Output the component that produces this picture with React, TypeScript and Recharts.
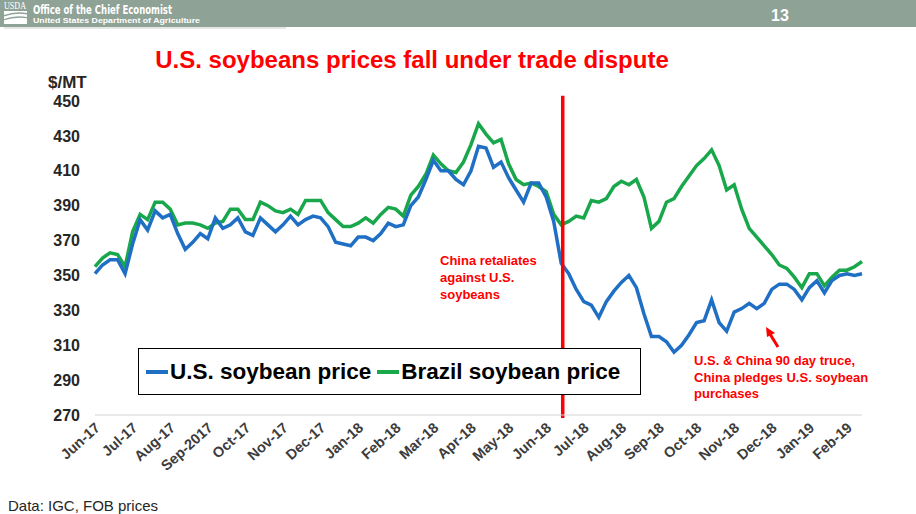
import React from 'react';
import { LineChart, Line, XAxis, YAxis, ReferenceLine, Legend } from 'recharts';

const monthLabels = [
  'Jun-17', 'Jul-17', 'Aug-17', 'Sep-2017', 'Oct-17', 'Nov-17', 'Dec-17',
  'Jan-18', 'Feb-18', 'Mar-18', 'Apr-18', 'May-18', 'Jun-18', 'Jul-18',
  'Aug-18', 'Sep-18', 'Oct-18', 'Nov-18', 'Dec-18', 'Jan-19', 'Feb-19',
];
const monthTicks = monthLabels.map((_, i) => i);
const yTicks = [270, 290, 310, 330, 350, 370, 390, 410, 430, 450];

// observations every 0.2 month, starting at the beginning of Jun-17 ($/MT)
const STEP = 0.2;
const usPrice = [
  351, 356, 359, 359, 351, 368, 382, 376, 387, 383,
  385, 374, 365, 369, 374, 371, 383, 377, 379, 383,
  375, 373, 383, 379, 375, 379, 384, 379, 382, 384,
  383, 378, 369, 368, 367, 372, 372, 370, 374, 380,
  378, 379, 390, 395, 405, 416, 410, 410, 405, 402,
  410, 424, 423, 412, 415, 406, 399, 392, 403, 403,
  395, 381, 357, 351, 342, 335, 333, 326, 335, 341,
  346, 350, 343, 328, 315, 315, 312, 306, 310, 316,
  323, 324, 336, 323, 318, 329, 331, 334, 331, 334,
  342, 345, 345, 342, 336, 343, 347, 340, 347, 350,
  351, 350, 351,
];
const brazilPrice = [
  355, 360, 363, 362, 355, 375, 385, 382, 392, 392,
  388, 379, 380, 380, 379, 377, 380, 381, 388, 388,
  382, 382, 392, 390, 387, 386, 388, 385, 393, 393,
  393, 386, 382, 378, 378, 380, 383, 380, 385, 389,
  388, 384, 396, 401, 408, 419, 414, 410, 409, 415,
  425, 437, 431, 426, 428, 414, 405, 402, 403, 401,
  398, 385, 379, 381, 384, 383, 393, 392, 394, 401,
  404, 402, 405, 395, 377, 381, 392, 394, 401, 407,
  413, 417, 422, 413, 399, 402, 388, 377, 372, 367,
  362, 356, 354, 349, 343, 351, 351, 344, 349, 353,
  353, 355, 358,
];
const retaliationMonth = 12.44;

const data = usPrice.map((v, i) => ({
  t: Math.round(i * STEP * 100) / 100,
  us: v,
  brazil: brazilPrice[i],
}));

const FONT = "Arial, 'Liberation Sans', Helvetica, sans-serif";
const BLUE = '#1f6fc5';
const GREEN = '#19a74b';
const RED = '#ff0000';

const XTick = (props: any) => {
  const { x, y, payload } = props;
  return (
    <g transform={`translate(${x + 6},${y + 14}) rotate(-42)`}>
      <text x={0} y={0} textAnchor="end" fontFamily={FONT} fontSize={14.5} fontWeight="bold" fill="#3c3c3c">
        {monthLabels[payload.value]}
      </text>
    </g>
  );
};

const LegendBox = (props: any) => {
  const order = ['us', 'brazil'];
  const items = [...(props.payload || [])].sort(
    (a: any, b: any) => order.indexOf(a.dataKey) - order.indexOf(b.dataKey)
  );
  return (
    <div
      style={{
        width: 503, height: 47, boxSizing: 'border-box', border: '1.5px solid #000', background: '#fff',
        display: 'flex', alignItems: 'center', fontFamily: FONT, fontWeight: 'bold', fontSize: 22.5, color: '#000',
      }}
    >
      {items.map((p: any, i: number) => (
        <span key={p.value} style={{ display: 'flex', alignItems: 'center', marginLeft: i === 0 ? 7 : 6, whiteSpace: 'nowrap' }}>
          <span style={{ display: 'inline-block', width: 22, height: 4, background: p.color, marginRight: 2 }} />
          {p.value}
        </span>
      ))}
    </div>
  );
};

export default function App() {
  return (
    <div style={{ position: 'absolute', left: 0, top: 0, width: 916, height: 514, background: '#fff', overflow: 'hidden' }}>
      <svg width={916} height={514} style={{ position: 'absolute', left: 0, top: 0 }}>
        <rect x={0} y={0} width={916} height={27} fill="#8fa296" />
        <line x1={4} y1={28} x2={286} y2={28} stroke="#c9d1cc" strokeWidth={1} />
        <text x={4} y={9} fontFamily="'Liberation Serif', serif" fontSize={11} fill="#fff" textLength={22} lengthAdjust="spacingAndGlyphs">USDA</text>
        <rect x={4} y={11} width={23} height={13} fill="#fff" />
        <path d="M4 15 Q15 11 27 13 L27 14.5 Q15 12.5 4 16.5 Z" fill="#8fa296" />
        <path d="M4 19 Q15 15 27 17 L27 18.2 Q15 16.5 4 20.2 Z" fill="#8fa296" />
        <text x={33} y={14} fontFamily="'DejaVu Sans Condensed', 'DejaVu Sans', sans-serif" fontWeight="bold" fontSize={12.5} fill="#fff" textLength={139} lengthAdjust="spacingAndGlyphs">Office of the Chief Economist</text>
        <text x={33} y={23} fontFamily={FONT} fontWeight="bold" fontSize={7.5} fill="#fff" textLength={167} lengthAdjust="spacingAndGlyphs">United States Department of Agriculture</text>
        <text x={771} y={21} fontFamily={FONT} fontWeight="bold" fontSize={16} fill="#fff">13</text>
        <text x={412} y={68} textAnchor="middle" fontFamily={FONT} fontWeight="bold" fontSize={24} fill={RED}>U.S. soybeans prices fall under trade dispute</text>
        <text x={48} y={88} fontFamily={FONT} fontWeight="bold" fontSize={17} fill="#262626">$/MT</text>
        <text x={8} y={511} fontFamily={FONT} fontSize={15} fill="#262626">Data: IGC, FOB prices</text>
      </svg>
      <div style={{ position: 'absolute', left: 0, top: 0 }}>
        <LineChart width={916} height={514} data={data} margin={{ top: 101, right: 54, bottom: 39, left: 8 }}>
          <XAxis
            dataKey="t"
            type="number"
            domain={[0, 20.4]}
            ticks={monthTicks}
            interval={0}
            tick={<XTick />}
            tickLine={false}
            tickSize={0}
            tickMargin={0}
            axisLine={{ stroke: '#d4d4d4', strokeWidth: 1 }}
            height={60}
          />
          <YAxis
            type="number"
            domain={[270, 450]}
            ticks={yTicks}
            interval={0}
            width={87}
            axisLine={false}
            tickLine={false}
            tickSize={0}
            tickMargin={15}
            tick={{ fontFamily: FONT, fontSize: 16, fontWeight: 'bold', fill: '#262626' }}
          />
          <Line dataKey="brazil" name="Brazil soybean price" stroke={GREEN} strokeWidth={3.5} dot={false} isAnimationActive={false} />
          <Line dataKey="us" name="U.S. soybean price" stroke={BLUE} strokeWidth={3.5} dot={false} isAnimationActive={false} />
          <ReferenceLine
            segment={[{ x: retaliationMonth, y: 453 }, { x: retaliationMonth, y: 268.3 }]}
            stroke={RED}
            strokeWidth={3.5}
            ifOverflow="visible"
          />
          <Legend
            layout="horizontal"
            verticalAlign="middle"
            align="center"
            content={<LegendBox />}
            wrapperStyle={{ position: 'absolute', left: 138, top: 348, width: 503, height: 47 }}
          />
        </LineChart>
      </div>
      <svg width={916} height={514} style={{ position: 'absolute', left: 0, top: 0, pointerEvents: 'none' }}>
        <g fontFamily={FONT} fontWeight="bold" fontSize={13} fill={RED}>
          <text x={440} y={265}>China retaliates</text>
          <text x={440} y={282}>against U.S.</text>
          <text x={440} y={298.5}>soybeans</text>
          <text x={694} y={365}>U.S. &amp; China 90 day truce,</text>
          <text x={694} y={381.5}>China pledges U.S. soybean</text>
          <text x={694} y={398}>purchases</text>
        </g>
        <line x1={778} y1={347} x2={770} y2={334} stroke={RED} strokeWidth={3} />
        <polygon points="766,327 775,333 767,337" fill={RED} />
      </svg>
    </div>
  );
}
